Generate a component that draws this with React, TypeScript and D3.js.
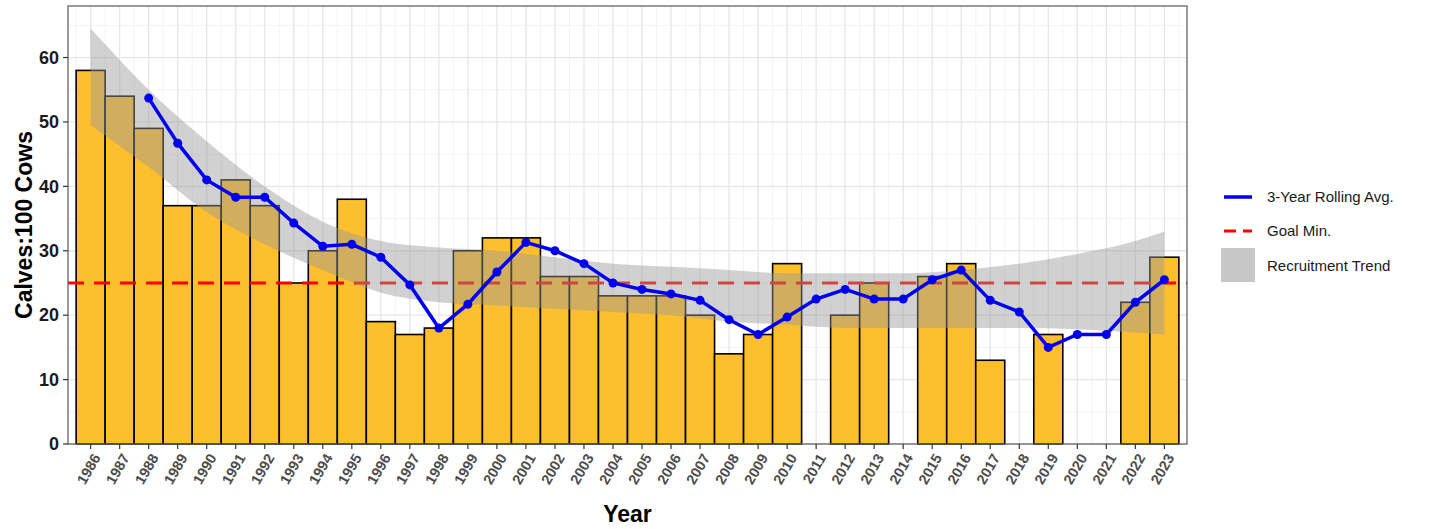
import React from 'react';
import * as d3 from 'd3';

const years = d3.range(1986, 2024);
const calves: (number | null)[] = [58, 54, 49, 37, 37, 41, 37, 25, 30, 38, 19, 17, 18, 30, 32, 32, 26, 26, 23, 23, 23, 20, 14, 17, 28, null, 20, 25, null, 26, 28, 13, null, 17, null, null, 22, 29];
const rollYears = d3.range(1988, 2024);
const rolling = [53.7, 46.7, 41, 38.3, 38.3, 34.3, 30.7, 31, 29, 24.7, 18, 21.7, 26.7, 31.3, 30, 28, 25, 24, 23.3, 22.3, 19.3, 17, 19.7, 22.5, 24, 22.5, 22.5, 25.5, 27, 22.3, 20.5, 15, 17, 17, 22, 25.5];
const trendYears = [1986, 1988, 1990, 1992, 1994, 1996, 1998, 2000, 2002, 2004, 2006, 2008, 2010, 2012, 2014, 2016, 2018, 2020, 2022, 2023];
const trendUpper = [64.5, 55, 47, 40, 34.5, 31.5, 30.5, 30, 29, 28, 27.5, 27, 26.5, 26.5, 26.5, 27, 28, 29.5, 31.5, 33];
const trendLower = [49.5, 43, 36, 31, 27, 23.5, 22, 21.5, 21, 20.5, 20, 19, 18.5, 18, 18, 18, 18, 17.8, 17.3, 17];
const goal = 25;
const yTicks = [0, 10, 20, 30, 40, 50, 60];

const L = 68, R = 1187, T = 6, B = 444;

export default function App() {
  const x = d3.scaleLinear().domain([1986 - 0.78, 2023 + 0.78]).range([L, R]);
  const y = d3.scaleLinear().domain([0, 68]).range([B, T]);
  const bw = x(1) - x(0);
  const line = d3.line<number>().x((_, i) => x(rollYears[i])).y(d => y(d));
  const area = d3.area<number>().x(d => x(d))
    .y0((_, i) => y(trendLower[i])).y1((_, i) => y(trendUpper[i])).curve(d3.curveMonotoneX);
  const minorY = d3.range(5, 68, 10);
  const minorX = d3.range(1985.5, 2024, 1);
  return (
    <svg width={1432} height={529} style={{ position: 'absolute', left: 0, top: 0, fontFamily: 'Liberation Sans, Arial, sans-serif' }}>
      <rect x={L} y={T} width={R - L} height={B - T} fill="#fff" />
      {minorY.map(v => <line key={'my' + v} x1={L} x2={R} y1={y(v)} y2={y(v)} stroke="#f3f3f3" />)}
      {minorX.map(v => <line key={'mx' + v} x1={x(v)} x2={x(v)} y1={T} y2={B} stroke="#f3f3f3" />)}
      {yTicks.map(v => <line key={'gy' + v} x1={L} x2={R} y1={y(v)} y2={y(v)} stroke="#e6e6e6" strokeWidth={1.3} />)}
      {years.map(v => <line key={'gx' + v} x1={x(v)} x2={x(v)} y1={T} y2={B} stroke="#e6e6e6" strokeWidth={1.3} />)}
      {years.map((yr, i) => calves[i] == null ? null : (
        <rect key={yr} x={x(yr) - bw / 2} y={y(calves[i] as number)} width={bw} height={B - y(calves[i] as number)}
          fill="#fdbf2d" stroke="#000" strokeWidth={1.6} />
      ))}
      <line x1={L} x2={R} y1={y(goal)} y2={y(goal)} stroke="#ff0000" strokeWidth={3} strokeDasharray="16,10" />
      <path d={area(trendYears) ?? ''} fill="#999" fillOpacity={0.45} />
      <path d={line(rolling) ?? ''} fill="none" stroke="#0000ee" strokeWidth={3.5} />
      {rolling.map((v, i) => <circle key={i} cx={x(rollYears[i])} cy={y(v)} r={4.5} fill="#0000ee" />)}
      <rect x={L} y={T} width={R - L} height={B - T} fill="none" stroke="#666" strokeWidth={1.3} />
      {yTicks.map(v => (
        <g key={'ty' + v}>
          <line x1={L - 5} x2={L} y1={y(v)} y2={y(v)} stroke="#333" strokeWidth={1.2} />
          <text x={L - 9} y={y(v)} dy="0.35em" textAnchor="end" fontSize={18} fontWeight="bold" fill="#1a1a1a">{v}</text>
        </g>
      ))}
      {years.map(v => (
        <g key={'tx' + v}>
          <line x1={x(v)} x2={x(v)} y1={B} y2={B + 5} stroke="#333" strokeWidth={1.2} />
          <text transform={`translate(${x(v) + 6},${B + 11}) rotate(-60)`} textAnchor="end" dy="0.35em" fontSize={14.5} fontWeight="bold" fill="#4d4d4d">{v}</text>
        </g>
      ))}
      <text transform={`translate(24,${(T + B) / 2}) rotate(-90)`} textAnchor="middle" dy="0.35em" fontSize={23} fontWeight="bold" fill="#000">Calves:100 Cows</text>
      <text x={(L + R) / 2} y={522} textAnchor="middle" fontSize={23} fontWeight="bold" fill="#000">Year</text>
      <line x1={1224} x2={1252} y1={197} y2={197} stroke="#0000ee" strokeWidth={3.5} />
      <text x={1267} y={197} dy="0.35em" fontSize={15} fill="#1a1a1a">3-Year Rolling Avg.</text>
      <line x1={1224} x2={1252} y1={231} y2={231} stroke="#ff0000" strokeWidth={3} strokeDasharray="12,7" />
      <text x={1267} y={231} dy="0.35em" fontSize={15} fill="#1a1a1a">Goal Min.</text>
      <rect x={1221} y={248} width={34} height={34} fill="#999" fillOpacity={0.55} />
      <text x={1267} y={266} dy="0.35em" fontSize={15} fill="#1a1a1a">Recruitment Trend</text>
    </svg>
  );
}
